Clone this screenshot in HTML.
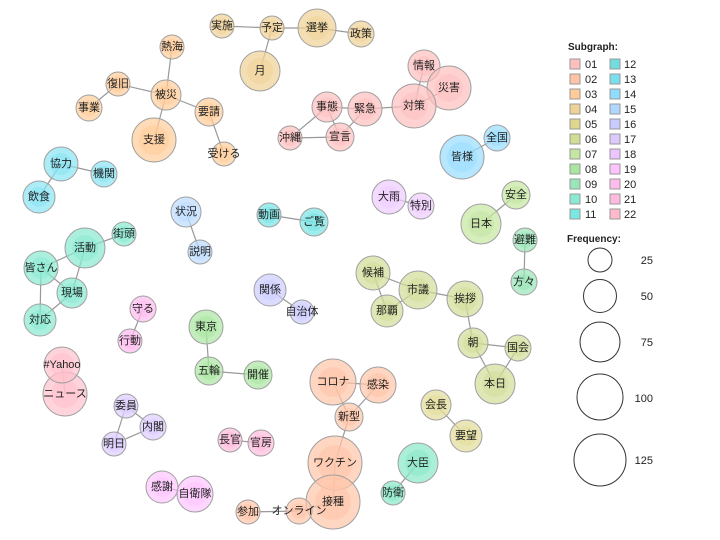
<!DOCTYPE html>
<html><head><meta charset="utf-8">
<style>
html,body{margin:0;padding:0;background:#fff;}
svg{display:block;font-family:"Liberation Sans","Noto Sans CJK JP",sans-serif;}
.e line{stroke:#999;stroke-width:1.2;}
.o{stroke:#a0a0a0;stroke-width:1;fill-opacity:.7}
.i{fill-opacity:.55;stroke:none}
.t{font-size:11px;fill:#222;text-anchor:middle;dominant-baseline:central}
.lg{font-size:11px;fill:#222}
</style></head><body>
<svg width="720" height="540" viewBox="0 0 720 540">
<g class="e">
<line x1="222" y1="26" x2="272" y2="28"/><line x1="272" y1="28" x2="317" y2="28"/><line x1="317" y1="28" x2="361" y2="34"/><line x1="272" y1="28" x2="260" y2="71"/>
<line x1="172" y1="47" x2="166" y2="95"/><line x1="118" y1="84" x2="166" y2="95"/><line x1="118" y1="84" x2="89" y2="108"/><line x1="166" y1="95" x2="209" y2="112"/><line x1="166" y1="95" x2="154" y2="140"/><line x1="209" y1="112" x2="224" y2="154"/>
<line x1="424" y1="66" x2="414" y2="106"/><line x1="449" y1="88" x2="414" y2="106"/><line x1="414" y1="106" x2="365" y2="109"/><line x1="365" y1="109" x2="327" y2="107"/><line x1="327" y1="107" x2="340" y2="137"/><line x1="327" y1="107" x2="290" y2="138"/><line x1="290" y1="138" x2="340" y2="137"/><line x1="365" y1="109" x2="340" y2="137"/>
<line x1="462" y1="157" x2="497" y2="138"/><line x1="61" y1="164" x2="104" y2="174"/><line x1="61" y1="164" x2="39" y2="197"/>
<line x1="389" y1="197" x2="421" y2="206"/><line x1="481" y1="224" x2="516" y2="195"/><line x1="525" y1="240" x2="524" y2="282"/>
<line x1="186" y1="212" x2="200" y2="252"/><line x1="269" y1="215" x2="314" y2="222"/>
<line x1="85" y1="248" x2="124" y2="234"/><line x1="85" y1="248" x2="41" y2="268"/><line x1="85" y1="248" x2="72" y2="293"/><line x1="41" y1="268" x2="72" y2="293"/><line x1="41" y1="268" x2="40" y2="320"/><line x1="72" y1="293" x2="40" y2="320"/>
<line x1="270" y1="290" x2="302" y2="312"/>
<line x1="373" y1="273" x2="418" y2="290"/><line x1="373" y1="273" x2="387" y2="311"/><line x1="387" y1="311" x2="418" y2="290"/><line x1="418" y1="290" x2="465" y2="299"/><line x1="465" y1="299" x2="473" y2="343"/><line x1="473" y1="343" x2="518" y2="348"/><line x1="473" y1="343" x2="495" y2="384"/><line x1="518" y1="348" x2="495" y2="384"/>
<line x1="143" y1="309" x2="130" y2="341"/><line x1="206" y1="327" x2="209" y2="371"/><line x1="209" y1="371" x2="258" y2="375"/>
<line x1="62" y1="365" x2="65" y2="394"/>
<line x1="126" y1="406" x2="153" y2="427"/><line x1="126" y1="406" x2="114" y2="444"/><line x1="114" y1="444" x2="153" y2="427"/>
<line x1="230" y1="440" x2="261" y2="443"/>
<line x1="333" y1="382" x2="378" y2="385"/><line x1="333" y1="382" x2="349" y2="417"/><line x1="378" y1="385" x2="349" y2="417"/><line x1="349" y1="417" x2="335" y2="463"/><line x1="335" y1="463" x2="333" y2="502"/><line x1="333" y1="502" x2="299" y2="511"/><line x1="299" y1="511" x2="248" y2="512"/>
<line x1="436" y1="405" x2="466" y2="436"/><line x1="418" y1="463" x2="393" y2="493"/><line x1="162" y1="487" x2="195" y2="494"/>
</g>
<g id="nodes">
<!-- 04 -->
<g fill="#efd296"><circle class="o" cx="222" cy="26" r="12"/><circle class="i" cx="222" cy="26" r="8"/><text class="t" x="222" y="26">実施</text></g>
<g fill="#efd296"><circle class="o" cx="272" cy="28" r="12"/><circle class="i" cx="272" cy="28" r="8"/><text class="t" x="272" y="28">予定</text></g>
<g fill="#efd296"><circle class="o" cx="317" cy="28" r="19"/><circle class="i" cx="317" cy="28" r="12"/><text class="t" x="317" y="28">選挙</text></g>
<g fill="#efd296"><circle class="o" cx="361" cy="34" r="13"/><circle class="i" cx="361" cy="34" r="8"/><text class="t" x="361" y="34">政策</text></g>
<g fill="#efd296"><circle class="o" cx="260" cy="71" r="20"/><circle class="i" cx="260" cy="71" r="13"/><text class="t" x="260" y="71">月</text></g>
<!-- 03 -->
<g fill="#ffcc99"><circle class="o" cx="172" cy="47" r="12"/><circle class="i" cx="172" cy="47" r="8"/><text class="t" x="172" y="47">熱海</text></g>
<g fill="#ffcc99"><circle class="o" cx="118" cy="84" r="12"/><circle class="i" cx="118" cy="84" r="8"/><text class="t" x="118" y="84">復旧</text></g>
<g fill="#ffcc99"><circle class="o" cx="89" cy="108" r="13"/><circle class="i" cx="89" cy="108" r="8"/><text class="t" x="89" y="108">事業</text></g>
<g fill="#ffcc99"><circle class="o" cx="166" cy="95" r="15"/><circle class="i" cx="166" cy="95" r="10"/><text class="t" x="166" y="95">被災</text></g>
<g fill="#ffcc99"><circle class="o" cx="209" cy="112" r="14"/><circle class="i" cx="209" cy="112" r="9"/><text class="t" x="209" y="112">要請</text></g>
<g fill="#ffcc99"><circle class="o" cx="154" cy="140" r="22"/><circle class="i" cx="154" cy="140" r="15"/><text class="t" x="154" y="140">支援</text></g>
<g fill="#ffcc99"><circle class="o" cx="224" cy="154" r="12"/><circle class="i" cx="224" cy="154" r="8"/><text class="t" x="224" y="154">受ける</text></g>
<!-- 01 -->
<g fill="#ffbfbf"><circle class="o" cx="424" cy="66" r="16"/><circle class="i" cx="424" cy="66" r="10"/><text class="t" x="424" y="66">情報</text></g>
<g fill="#ffbfbf"><circle class="o" cx="449" cy="88" r="22"/><circle class="i" cx="449" cy="88" r="14"/><text class="t" x="449" y="88">災害</text></g>
<g fill="#ffbfbf"><circle class="o" cx="414" cy="106" r="22"/><circle class="i" cx="414" cy="106" r="14"/><text class="t" x="414" y="106">対策</text></g>
<g fill="#ffbfbf"><circle class="o" cx="365" cy="109" r="17"/><circle class="i" cx="365" cy="109" r="11"/><text class="t" x="365" y="109">緊急</text></g>
<g fill="#ffbfbf"><circle class="o" cx="327" cy="107" r="15"/><circle class="i" cx="327" cy="107" r="10"/><text class="t" x="327" y="107">事態</text></g>
<g fill="#ffbfbf"><circle class="o" cx="290" cy="138" r="12"/><circle class="i" cx="290" cy="138" r="8"/><text class="t" x="290" y="138">沖縄</text></g>
<g fill="#ffbfbf"><circle class="o" cx="340" cy="137" r="14"/><circle class="i" cx="340" cy="137" r="9"/><text class="t" x="340" y="137">宣言</text></g>
<!-- 14 -->
<g fill="#99dcff"><circle class="o" cx="462" cy="157" r="22"/><circle class="i" cx="462" cy="157" r="15"/><text class="t" x="462" y="157">皆様</text></g>
<g fill="#99dcff"><circle class="o" cx="497" cy="138" r="13"/><circle class="i" cx="497" cy="138" r="8"/><text class="t" x="497" y="138">全国</text></g>
<!-- 13 -->
<g fill="#88e4f4"><circle class="o" cx="61" cy="164" r="17"/><circle class="i" cx="61" cy="164" r="11"/><text class="t" x="61" y="164">協力</text></g>
<g fill="#88e4f4"><circle class="o" cx="104" cy="174" r="13"/><circle class="i" cx="104" cy="174" r="8"/><text class="t" x="104" y="174">機関</text></g>
<g fill="#88e4f4"><circle class="o" cx="39" cy="197" r="16"/><circle class="i" cx="39" cy="197" r="10"/><text class="t" x="39" y="197">飲食</text></g>
<!-- 18 -->
<g fill="#eeccff"><circle class="o" cx="389" cy="197" r="17"/><circle class="i" cx="389" cy="197" r="11"/><text class="t" x="389" y="197">大雨</text></g>
<g fill="#eeccff"><circle class="o" cx="421" cy="206" r="13"/><circle class="i" cx="421" cy="206" r="8"/><text class="t" x="421" y="206">特別</text></g>
<!-- 07 -->
<g fill="#c4e6a0"><circle class="o" cx="481" cy="224" r="20"/><circle class="i" cx="481" cy="224" r="13"/><text class="t" x="481" y="224">日本</text></g>
<g fill="#c4e6a0"><circle class="o" cx="516" cy="195" r="14"/><circle class="i" cx="516" cy="195" r="9"/><text class="t" x="516" y="195">安全</text></g>
<!-- 09 -->
<g fill="#99e6b8"><circle class="o" cx="525" cy="240" r="12"/><circle class="i" cx="525" cy="240" r="8"/><text class="t" x="525" y="240">避難</text></g>
<g fill="#99e6b8"><circle class="o" cx="524" cy="282" r="13"/><circle class="i" cx="524" cy="282" r="8"/><text class="t" x="524" y="282">方々</text></g>
<!-- 15 -->
<g fill="#bcdcff"><circle class="o" cx="186" cy="212" r="15"/><circle class="i" cx="186" cy="212" r="10"/><text class="t" x="186" y="212">状況</text></g>
<g fill="#bcdcff"><circle class="o" cx="200" cy="252" r="12"/><circle class="i" cx="200" cy="252" r="8"/><text class="t" x="200" y="252">説明</text></g>
<!-- 12 -->
<g fill="#77e4e4"><circle class="o" cx="269" cy="215" r="12"/><circle class="i" cx="269" cy="215" r="8"/><text class="t" x="269" y="215">動画</text></g>
<g fill="#77e4e4"><circle class="o" cx="314" cy="222" r="14"/><circle class="i" cx="314" cy="222" r="9"/><text class="t" x="314" y="222">ご覧</text></g>
<!-- 10 -->
<g fill="#88ead2"><circle class="o" cx="85" cy="248" r="20"/><circle class="i" cx="85" cy="248" r="13"/><text class="t" x="85" y="248">活動</text></g>
<g fill="#88ead2"><circle class="o" cx="124" cy="234" r="12"/><circle class="i" cx="124" cy="234" r="8"/><text class="t" x="124" y="234">街頭</text></g>
<g fill="#88ead2"><circle class="o" cx="41" cy="268" r="17"/><circle class="i" cx="41" cy="268" r="11"/><text class="t" x="41" y="268">皆さん</text></g>
<g fill="#88ead2"><circle class="o" cx="72" cy="293" r="15"/><circle class="i" cx="72" cy="293" r="10"/><text class="t" x="72" y="293">現場</text></g>
<g fill="#88ead2"><circle class="o" cx="40" cy="320" r="16"/><circle class="i" cx="40" cy="320" r="10"/><text class="t" x="40" y="320">対応</text></g>
<!-- 16 -->
<g fill="#ccccff"><circle class="o" cx="270" cy="290" r="16"/><circle class="i" cx="270" cy="290" r="10"/><text class="t" x="270" y="290">関係</text></g>
<g fill="#ccccff"><circle class="o" cx="302" cy="312" r="12"/><circle class="i" cx="302" cy="312" r="8"/><text class="t" x="302" y="312">自治体</text></g>
<!-- 06 -->
<g fill="#d2dd99"><circle class="o" cx="373" cy="273" r="17"/><circle class="i" cx="373" cy="273" r="11"/><text class="t" x="373" y="273">候補</text></g>
<g fill="#d2dd99"><circle class="o" cx="418" cy="290" r="19"/><circle class="i" cx="418" cy="290" r="12"/><text class="t" x="418" y="290">市議</text></g>
<g fill="#d2dd99"><circle class="o" cx="387" cy="311" r="16"/><circle class="i" cx="387" cy="311" r="10"/><text class="t" x="387" y="311">那覇</text></g>
<g fill="#d2dd99"><circle class="o" cx="465" cy="299" r="18"/><circle class="i" cx="465" cy="299" r="12"/><text class="t" x="465" y="299">挨拶</text></g>
<g fill="#d2dd99"><circle class="o" cx="473" cy="343" r="15"/><circle class="i" cx="473" cy="343" r="10"/><text class="t" x="473" y="343">朝</text></g>
<g fill="#d2dd99"><circle class="o" cx="518" cy="348" r="13"/><circle class="i" cx="518" cy="348" r="8"/><text class="t" x="518" y="348">国会</text></g>
<g fill="#d2dd99"><circle class="o" cx="495" cy="384" r="20"/><circle class="i" cx="495" cy="384" r="13"/><text class="t" x="495" y="384">本日</text></g>
<!-- 20 -->
<g fill="#ffbbee"><circle class="o" cx="143" cy="309" r="13"/><circle class="i" cx="143" cy="309" r="8"/><text class="t" x="143" y="309">守る</text></g>
<g fill="#ffbbee"><circle class="o" cx="130" cy="341" r="12"/><circle class="i" cx="130" cy="341" r="8"/><text class="t" x="130" y="341">行動</text></g>
<!-- 08 -->
<g fill="#aae6a0"><circle class="o" cx="206" cy="327" r="17"/><circle class="i" cx="206" cy="327" r="11"/><text class="t" x="206" y="327">東京</text></g>
<g fill="#aae6a0"><circle class="o" cx="209" cy="371" r="14"/><circle class="i" cx="209" cy="371" r="9"/><text class="t" x="209" y="371">五輪</text></g>
<g fill="#aae6a0"><circle class="o" cx="258" cy="375" r="14"/><circle class="i" cx="258" cy="375" r="9"/><text class="t" x="258" y="375">開催</text></g>
<!-- 22 -->
<g fill="#ffc0cc"><circle class="o" cx="65" cy="394" r="22"/><circle class="i" cx="65" cy="394" r="14"/><text class="t" x="65" y="394">ニュース</text></g>
<g fill="#ffc0cc"><circle class="o" cx="62" cy="365" r="18"/><circle class="i" cx="62" cy="365" r="12"/><text class="t" x="62" y="365">#Yahoo</text></g>
<!-- 17 -->
<g fill="#ddccff"><circle class="o" cx="126" cy="406" r="12"/><circle class="i" cx="126" cy="406" r="8"/><text class="t" x="126" y="406">委員</text></g>
<g fill="#ddccff"><circle class="o" cx="153" cy="427" r="13"/><circle class="i" cx="153" cy="427" r="8"/><text class="t" x="153" y="427">内閣</text></g>
<g fill="#ddccff"><circle class="o" cx="114" cy="444" r="12"/><circle class="i" cx="114" cy="444" r="8"/><text class="t" x="114" y="444">明日</text></g>
<!-- 21 -->
<g fill="#ffbbdd"><circle class="o" cx="230" cy="440" r="12"/><circle class="i" cx="230" cy="440" r="8"/><text class="t" x="230" y="440">長官</text></g>
<g fill="#ffbbdd"><circle class="o" cx="261" cy="443" r="13"/><circle class="i" cx="261" cy="443" r="8"/><text class="t" x="261" y="443">官房</text></g>
<!-- 02 -->
<g fill="#ffc4a8"><circle class="o" cx="333" cy="382" r="23"/><circle class="i" cx="333" cy="382" r="15"/><text class="t" x="333" y="382">コロナ</text></g>
<g fill="#ffc4a8"><circle class="o" cx="378" cy="385" r="18"/><circle class="i" cx="378" cy="385" r="12"/><text class="t" x="378" y="385">感染</text></g>
<g fill="#ffc4a8"><circle class="o" cx="349" cy="417" r="14"/><circle class="i" cx="349" cy="417" r="9"/><text class="t" x="349" y="417">新型</text></g>
<g fill="#ffc4a8"><circle class="o" cx="335" cy="463" r="27"/><circle class="i" cx="335" cy="463" r="18"/><text class="t" x="335" y="463">ワクチン</text></g>
<g fill="#ffc4a8"><circle class="o" cx="333" cy="502" r="27"/><circle class="i" cx="333" cy="502" r="18"/><text class="t" x="333" y="502">接種</text></g>
<g fill="#ffc4a8"><circle class="o" cx="299" cy="511" r="13"/><circle class="i" cx="299" cy="511" r="8"/><text class="t" x="299" y="511">オンライン</text></g>
<g fill="#ffc4a8"><circle class="o" cx="248" cy="512" r="12"/><circle class="i" cx="248" cy="512" r="8"/><text class="t" x="248" y="512">参加</text></g>
<!-- 05 -->
<g fill="#e2dc99"><circle class="o" cx="436" cy="405" r="15"/><circle class="i" cx="436" cy="405" r="10"/><text class="t" x="436" y="405">会長</text></g>
<g fill="#e2dc99"><circle class="o" cx="466" cy="436" r="16"/><circle class="i" cx="466" cy="436" r="10"/><text class="t" x="466" y="436">要望</text></g>
<!-- 10/11 -->
<g fill="#88e8c8"><circle class="o" cx="418" cy="463" r="20"/><circle class="i" cx="418" cy="463" r="13"/><text class="t" x="418" y="463">大臣</text></g>
<g fill="#88e8c8"><circle class="o" cx="393" cy="493" r="12"/><circle class="i" cx="393" cy="493" r="8"/><text class="t" x="393" y="493">防衛</text></g>
<!-- 19 -->
<g fill="#ffc4ff"><circle class="o" cx="162" cy="487" r="16"/><circle class="i" cx="162" cy="487" r="10"/><text class="t" x="162" y="487">感謝</text></g>
<g fill="#ffc4ff"><circle class="o" cx="195" cy="494" r="18"/><circle class="i" cx="195" cy="494" r="12"/><text class="t" x="195" y="494">自衛隊</text></g>
</g>
<!-- legend -->
<text x="568" y="50" style="font-size:10px;font-weight:bold" fill="#222">Subgraph:</text>
<g stroke="#999" stroke-width="1">
<rect x="570" y="59" width="10" height="10" fill="#ffbfbf"/><rect x="570" y="74" width="10" height="10" fill="#ffc4a8"/><rect x="570" y="89" width="10" height="10" fill="#ffcc99"/><rect x="570" y="104" width="10" height="10" fill="#efd296"/><rect x="570" y="119" width="10" height="10" fill="#dfd690"/><rect x="570" y="134" width="10" height="10" fill="#d2dd94"/><rect x="570" y="149" width="10" height="10" fill="#c4e6a0"/><rect x="570" y="164" width="10" height="10" fill="#aae6a0"/><rect x="570" y="179" width="10" height="10" fill="#99e6b8"/><rect x="570" y="194" width="10" height="10" fill="#88ead2"/><rect x="570" y="209" width="10" height="10" fill="#7ae8e0"/>
<rect x="610" y="59" width="10" height="10" fill="#70dede"/><rect x="610" y="74" width="10" height="10" fill="#7ae0f0"/><rect x="610" y="89" width="10" height="10" fill="#90dcff"/><rect x="610" y="104" width="10" height="10" fill="#b0d8ff"/><rect x="610" y="119" width="10" height="10" fill="#c8ccff"/><rect x="610" y="134" width="10" height="10" fill="#dccaff"/><rect x="610" y="149" width="10" height="10" fill="#ecc4ff"/><rect x="610" y="164" width="10" height="10" fill="#ffc4ff"/><rect x="610" y="179" width="10" height="10" fill="#ffbbee"/><rect x="610" y="194" width="10" height="10" fill="#ffbbdd"/><rect x="610" y="209" width="10" height="10" fill="#ffbbcc"/>
</g>
<g class="lg">
<text x="585" y="68">01</text><text x="585" y="83">02</text><text x="585" y="98">03</text><text x="585" y="113">04</text><text x="585" y="128">05</text><text x="585" y="143">06</text><text x="585" y="158">07</text><text x="585" y="173">08</text><text x="585" y="188">09</text><text x="585" y="203">10</text><text x="585" y="218">11</text>
<text x="624" y="68">12</text><text x="624" y="83">13</text><text x="624" y="98">14</text><text x="624" y="113">15</text><text x="624" y="128">16</text><text x="624" y="143">17</text><text x="624" y="158">18</text><text x="624" y="173">19</text><text x="624" y="188">20</text><text x="624" y="203">21</text><text x="624" y="218">22</text>
</g>
<text x="567" y="242" style="font-size:10px;font-weight:bold" fill="#222">Frequency:</text>
<g fill="none" stroke="#333" stroke-width="1">
<circle cx="600" cy="260" r="12"/><circle cx="600" cy="296" r="16.5"/><circle cx="600" cy="342" r="20"/><circle cx="600" cy="397" r="23"/><circle cx="600" cy="460" r="26"/>
</g>
<g class="lg" text-anchor="end">
<text x="653" y="264">25</text><text x="653" y="300">50</text><text x="653" y="346">75</text><text x="653" y="402">100</text><text x="653" y="464">125</text>
</g>
</svg>
</body></html>
